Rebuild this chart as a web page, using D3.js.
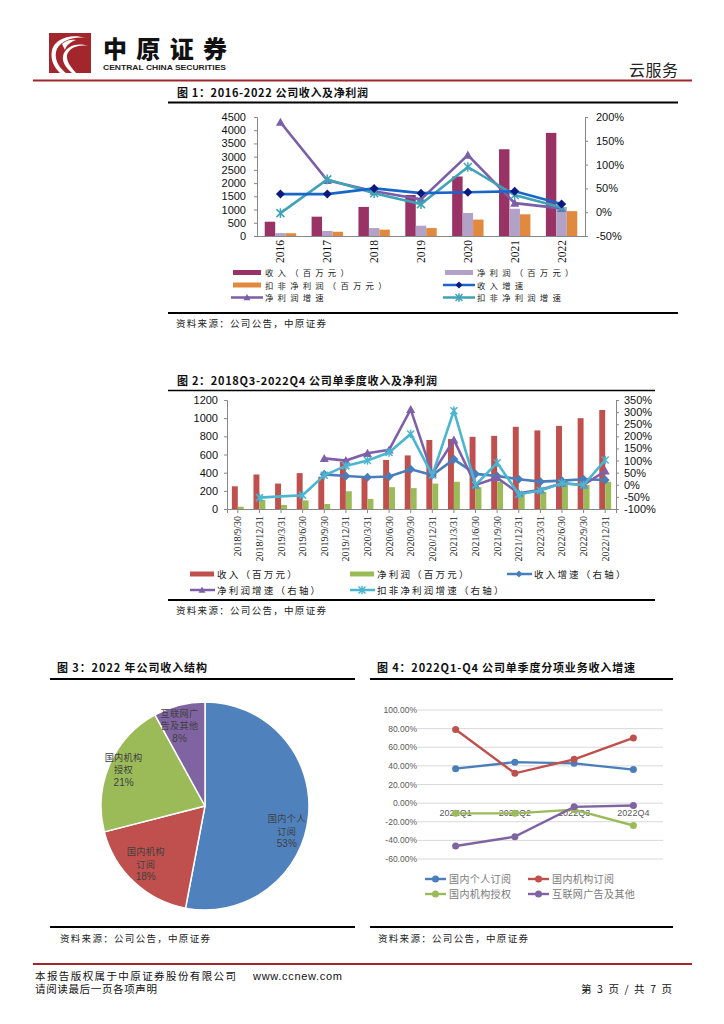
<!DOCTYPE html>
<html><head><meta charset="utf-8">
<script src="https://cdn.jsdelivr.net/npm/d3@7"></script>
<style>
body{margin:0;background:#fff}
svg{display:block}
text{font-family:"Noto Sans CJK SC","Noto Sans",sans-serif}
.num{font-family:"Liberation Sans",Arial,sans-serif}
.ser{font-family:"Liberation Serif","Times New Roman",serif}
</style>
</head><body><svg id="c" width="724" height="1024"></svg>
<script>
// ---------- Chart 1 data ----------
const years = ["2016","2017","2018","2019","2020","2021","2022"];
const revenue = [540,730,1100,1550,2250,3280,3900];
const netProfit = [110,190,300,390,870,1030,1100];
const deductedProfit = [105,160,240,300,620,820,940];
const revenueGrowth = [38,38,50,40,42,44,17];
const netProfitGrowth = [189,67,44,27,120,19,8];
const deductedGrowth = [-2,69,40,17,95,36,10];
const leftTicks1 = [0,500,1000,1500,2000,2500,3000,3500,4000,4500];
const rightTicks1 = [-50,0,50,100,150,200];

// ---------- Chart 2 data ----------
const quarters = ["2018/9/30","2018/12/31","2019/3/31","2019/6/30","2019/9/30","2019/12/31","2020/3/31","2020/6/30","2020/9/30","2020/12/31","2021/3/31","2021/6/30","2021/9/30","2021/12/31","2022/3/31","2022/6/30","2022/9/30","2022/12/31"];
const qRevenue = [250,380,280,395,355,520,360,540,590,760,770,795,805,905,865,915,1000,1090];
const qProfit = [25,100,45,95,55,195,110,240,230,280,300,240,300,176,190,319,265,300];
const qRevenueGrowth = [null,null,null,null,43,36,31,34,64,40,105,45,36,23,13,17,23,20];
const qNetProfitGrowth = [null,null,null,null,109,100,130,144,311,45,185,-1,29,-35,-21,6,-1,57];
const qDeductedGrowth = [null,-53,-48,-43,39,78,100,133,210,40,306,-1,91,-39,-24,6,-1,102];
const leftTicks2 = [0,200,400,600,800,1000,1200];
const rightTicks2 = [-100,-50,0,50,100,150,200,250,300,350];

// ---------- Chart 3 data ----------
const pieNames = [["国内个人","订阅"],["国内机构","订阅"],["国内机构","授权"],["互联网广","告及其他"]];
const pieValues = [53,18,21,8];

// ---------- Chart 4 data ----------
const q2022 = ["2022Q1","2022Q2","2022Q3","2022Q4"];
const segNames = ["国内个人订阅","国内机构订阅","国内机构授权","互联网广告及其他"];
const segPersonal = [37,44,42.7,36];
const segInstSub = [79,32,47,70];
const segInstLic = [-11,-11,-7,-24];
const segInternet = [-46,-36,-4,-2.5];
const ticks4 = [-60,-40,-20,0,20,40,60,80,100];

const svg = d3.select("#c");
svg.append("rect").attr("width",724).attr("height",1024).attr("fill","#fff");

// ---------- Header ----------
const logo = svg.append("g");
logo.append("rect").attr("x",49).attr("y",33).attr("width",42).attr("height",40).attr("fill","#a3262c");
logo.append("path").attr("d","M86,38 C72,36 58,42 56,52 C54,62 62,70 66,73 L60,73 C54,67 50,60 52,50 C55,39 70,33 86,38 Z").attr("fill","#fff");
logo.append("path").attr("d","M88,46 C76,44 66,50 67,58 C68,65 74,70 76,73 L72,73 C66,68 62,62 63,56 C65,47 76,42 88,46 Z").attr("fill","#fff");
logo.append("path").attr("d","M62,44 C66,40 72,39 76,40 C70,42 66,46 65,50 Z").attr("fill","#fff");
svg.append("text").attr("x",103).attr("y",58).attr("font-size",24).attr("font-weight",900)
  .attr("textLength",124).attr("lengthAdjust","spacing").attr("fill","#111").text("中原证券");
svg.append("text").attr("class","num").attr("x",103).attr("y",70).attr("font-size",7.5).attr("font-weight",700)
  .attr("textLength",123).attr("lengthAdjust","spacingAndGlyphs").attr("fill","#222").text("CENTRAL CHINA SECURITIES");
svg.append("text").attr("x",629).attr("y",76).attr("font-size",16).attr("textLength",49).attr("fill","#222").text("云服务");
svg.append("line").attr("x1",33).attr("x2",692).attr("y1",80.5).attr("y2",80.5).attr("stroke","#a3262c").attr("stroke-width",2);

// helpers
function title(x,y,txt,w){
  svg.append("text").attr("x",x).attr("y",y).attr("font-size",11).attr("font-weight",700).attr("fill","#111")
    .attr("textLength",w).attr("lengthAdjust","spacing").text(txt);
}
function hline(x1,x2,y,w){
  svg.append("line").attr("x1",x1).attr("x2",x2).attr("y1",y).attr("y2",y).attr("stroke","#000").attr("stroke-width",w||2);
}
function source(x,y){
  svg.append("text").attr("x",x).attr("y",y).attr("font-size",9.5).attr("fill","#222")
    .attr("textLength",150).attr("lengthAdjust","spacing").text("资料来源：公司公告，中原证券");
}
function marker(g,type,x,y,color,size){
  const s=size||4;
  if(type==="diamond"){
    g.append("path").attr("d",`M${x},${y-s}L${x+s},${y}L${x},${y+s}L${x-s},${y}Z`).attr("fill",color);
  } else if(type==="triangle"){
    g.append("path").attr("d",`M${x},${y-s}L${x+s},${y+s*0.8}L${x-s},${y+s*0.8}Z`).attr("fill",color);
  } else if(type==="star"){
    g.append("path").attr("d",`M${x-s},${y-s}L${x+s},${y+s}M${x-s},${y+s}L${x+s},${y-s}M${x},${y-s*1.2}L${x},${y+s*1.2}`)
      .attr("stroke",color).attr("stroke-width",1.5).attr("fill","none");
  } else if(type==="circle"){
    g.append("circle").attr("cx",x).attr("cy",y).attr("r",s).attr("fill",color);
  }
}

// ---------- Chart 1 ----------
title(177,97,"图 1：2016-2022 公司收入及净利润",191);
hline(168,678,102.5,2);
{
  const x0=257,x1=585,yTop=117,yBot=236;
  const x = d3.scaleBand().domain(years).range([x0,x1]).paddingInner(0.33).paddingOuter(0.165);
  const xs = d3.scaleBand().domain([0,1,2]).range([0,x.bandwidth()]);
  const yL = d3.scaleLinear().domain([0,4500]).range([yBot,yTop]);
  const yR = d3.scaleLinear().domain([-50,200]).range([yBot,yTop]);
  const g = svg.append("g");
  const series=[revenue,netProfit,deductedProfit];
  const colors=["#993366","#b3a2c7","#e0893f"];
  series.forEach((arr,si)=>{
    g.selectAll(null).data(arr).enter().append("rect")
      .attr("x",(d,i)=>x(years[i])+xs(si)).attr("width",xs.bandwidth())
      .attr("y",d=>yL(d)).attr("height",d=>yBot-yL(d)).attr("fill",colors[si]);
  });
  const axL = g.append("g").attr("transform",`translate(${x0},0)`).call(d3.axisLeft(yL).tickValues(leftTicks1).tickSize(3).tickFormat(d3.format("d")));
  const axR = g.append("g").attr("transform",`translate(${x1},0)`).call(d3.axisRight(yR).tickValues(rightTicks1).tickSize(3).tickFormat(d=>d+"%"));
  [axL,axR].forEach(a=>{a.select(".domain").attr("stroke","#888");a.selectAll(".tick line").attr("stroke","#888");
    a.selectAll("text").attr("class","num").attr("font-size",11).attr("fill","#111");});
  axL.selectAll("text").attr("x",-11);
  axR.selectAll("text").attr("x",11);
  g.append("line").attr("x1",x0).attr("x2",x1).attr("y1",yBot+0.5).attr("y2",yBot+0.5).attr("stroke","#888");
  g.selectAll(null).data(years).enter().append("text").attr("class","ser")
    .attr("transform",d=>`translate(${x(d)+x.bandwidth()/2+4},240) rotate(-90)`)
    .attr("text-anchor","end").attr("font-size",11.5).attr("fill","#111").text(d=>d);
  const cx = d=>x(d)+x.bandwidth()/2;
  const lines=[[netProfitGrowth,"#7b5ea7","triangle"],[deductedGrowth,"#3fa3b8","star"],[revenueGrowth,"#1a66c8","diamond"]];
  lines.forEach(([arr,col,mk])=>{
    const ln = d3.line().x((d,i)=>cx(years[i])).y(d=>yR(d));
    g.append("path").attr("d",ln(arr)).attr("fill","none").attr("stroke",col).attr("stroke-width",2.6);
    arr.forEach((d,i)=>marker(g,mk,cx(years[i]),yR(d),mk==="diamond"?"#0a1a80":col,mk==="star"?4:4.5));
  });
  const lg = svg.append("g");
  const items=[["收入（百万元）","#993366","bar",233,272.5],["净利润（百万元）","#b3a2c7","bar",445,272.5],
    ["扣非净利润（百万元）","#e0893f","bar",233,285],["收入增速","#1a66c8","diamond",445,285],
    ["净利润增速","#7b5ea7","triangle",233,297.5],["扣非净利润增速","#3fa3b8","star",445,297.5]];
  items.forEach(([t,c,k,lx,ly])=>{
    if(k==="bar") lg.append("rect").attr("x",lx).attr("y",ly-2.5).attr("width",28).attr("height",5).attr("fill",c);
    else { lg.append("line").attr("x1",lx-2).attr("x2",lx+30).attr("y1",ly).attr("y2",ly).attr("stroke",c).attr("stroke-width",2.5);
      marker(lg,k,lx+14,ly,k==="diamond"?"#0a1a80":c,3.5); }
    lg.append("text").attr("x",lx+32).attr("y",ly+3.5).attr("font-size",8.4).attr("letter-spacing",4.2).attr("fill","#222").text(t);
  });
}
hline(168,678,313,2);
source(176,327);

// ---------- Chart 2 ----------
title(177,385,"图 2：2018Q3-2022Q4 公司单季度收入及净利润",260);
hline(168,655,390.5,1.5);
{
  const x0=227,x1=616,yTop=400,yBot=509;
  const x = d3.scaleBand().domain(quarters).range([x0,x1]).paddingInner(0.45).paddingOuter(0.225);
  const xs = d3.scaleBand().domain([0,1]).range([0,x.bandwidth()]);
  const yL = d3.scaleLinear().domain([0,1200]).range([yBot,yTop]);
  const yR = d3.scaleLinear().domain([-100,350]).range([yBot,yTop]);
  const g = svg.append("g");
  [[qRevenue,"#c0504d"],[qProfit,"#9bbb59"]].forEach(([arr,col],si)=>{
    g.selectAll(null).data(arr).enter().append("rect")
      .attr("x",(d,i)=>x(quarters[i])+xs(si)).attr("width",xs.bandwidth())
      .attr("y",d=>yL(d)).attr("height",d=>yBot-yL(d)).attr("fill",col);
  });
  const axL = g.append("g").attr("transform",`translate(${x0},0)`).call(d3.axisLeft(yL).tickValues(leftTicks2).tickSize(3).tickFormat(d3.format("d")));
  const axR = g.append("g").attr("transform",`translate(${x1},0)`).call(d3.axisRight(yR).tickValues(rightTicks2).tickSize(3).tickFormat(d=>d+"%"));
  [axL,axR].forEach(a=>{a.select(".domain").attr("stroke","#888");a.selectAll(".tick line").attr("stroke","#888");
    a.selectAll("text").attr("class","num").attr("font-size",11).attr("fill","#111");});
  axL.selectAll("text").attr("x",-9);
  axR.selectAll("text").attr("x",8);
  const axB = g.append("g").attr("transform",`translate(0,${yBot})`).call(d3.axisBottom(x).tickSize(4).tickFormat(""));
  axB.select(".domain").attr("stroke","#888");axB.selectAll(".tick line").attr("stroke","#888");
  g.selectAll(null).data(quarters).enter().append("text").attr("class","ser")
    .attr("transform",d=>`translate(${x(d)+x.bandwidth()/2+3.5},516) rotate(-90)`)
    .attr("text-anchor","end").attr("font-size",10).attr("fill","#222").text(d=>d);
  const cx = d=>x(d)+x.bandwidth()/2;
  const lines=[[qRevenueGrowth,"#4a7ebb","diamond"],[qNetProfitGrowth,"#7f5fa8","triangle"],[qDeductedGrowth,"#4bb6d0","star"]];
  lines.forEach(([arr,col,mk])=>{
    const ln = d3.line().defined(d=>d!==null).x((d,i)=>cx(quarters[i])).y(d=>yR(d));
    g.append("path").attr("d",ln(arr)).attr("fill","none").attr("stroke",col).attr("stroke-width",2.6);
    arr.forEach((d,i)=>{ if(d!==null && !(mk==="star" && i===2)) marker(g,mk,cx(quarters[i]),yR(d),col,mk==="star"?3.5:4.5);});
  });
  const lg = svg.append("g");
  const items=[["收入（百万元）","#c0504d","bar",190,574],["净利润（百万元）","#9bbb59","bar",350,574],
    ["收入增速（右轴）","#4a7ebb","diamond",507,574],["净利润增速（右轴）","#7f5fa8","triangle",190,590],
    ["扣非净利润增速（右轴）","#4bb6d0","star",350,590]];
  items.forEach(([t,c,k,lx,ly])=>{
    if(k==="bar") lg.append("rect").attr("x",lx).attr("y",ly-2.5).attr("width",24).attr("height",5).attr("fill",c);
    else { lg.append("line").attr("x1",lx).attr("x2",lx+25).attr("y1",ly).attr("y2",ly).attr("stroke",c).attr("stroke-width",2.5);
      marker(lg,k,lx+12,ly,c,3.5); }
    lg.append("text").attr("x",lx+27).attr("y",ly+4).attr("font-size",9.5).attr("letter-spacing",2.2).attr("fill","#222").text(t);
  });
}
hline(168,655,600,2);
source(176,614);

// ---------- Chart 3 ----------
title(57,672,"图 3：2022 年公司收入结构",150);
hline(50,355,679,2);
{
  const cx=205,cy=806,r=104;
  const pie = d3.pie().sort(null).value(d=>d)(pieValues);
  const arc = d3.arc().innerRadius(0).outerRadius(r);
  const labArc = d3.arc().innerRadius(r*0.58).outerRadius(r);
  const labelShift = [[0,17],[-3,-2],[-6,-4],[-5,-1]];
  const colors=["#4f81bd","#c0504d","#9bbb59","#8064a2"];
  const g = svg.append("g").attr("transform",`translate(${cx},${cy})`);
  g.selectAll(null).data(pie).enter().append("path").attr("d",arc).attr("fill",(d,i)=>colors[i])
    .attr("stroke","#fff").attr("stroke-width",1.5);
  pie.forEach((p,i)=>{
    const [lx,ly]=labArc.centroid(p);
    const lines=[pieNames[i][0],pieNames[i][1],pieValues[i]+"%"];
    lines.forEach((s,j)=>g.append("text").attr("text-anchor","middle").attr("fill","#404040")
      .attr("x",lx+labelShift[i][0]).attr("y",ly+labelShift[i][1]+(j-1)*12.5+4)
      .attr("class",j===2?"num":null).attr("font-size",j===2?10:9.2).attr("letter-spacing",j===2?0:0.3).text(s));
  });
}
hline(50,355,927,2);
source(60,942);

// ---------- Chart 4 ----------
title(377,672,"图 4：2022Q1-Q4 公司单季度分项业务收入增速",258);
hline(370,673,679,2);
{
  const x = d3.scaleBand().domain(q2022).range([426,663]);
  const y = d3.scaleLinear().domain([-60,100]).range([859,710]);
  const g = svg.append("g");
  ticks4.forEach(t=>{
    g.append("line").attr("x1",417).attr("x2",663).attr("y1",y(t)).attr("y2",y(t)).attr("stroke","#d9d9d9").attr("stroke-width",1);
    g.append("text").attr("class","num").attr("x",417).attr("y",y(t)+3).attr("text-anchor","end").attr("font-size",8.5)
      .attr("fill","#595959").text(t.toFixed(2)+"%");
  });
  q2022.forEach(q=>g.append("text").attr("class","num").attr("x",x(q)+x.bandwidth()/2).attr("y",y(0)+13)
    .attr("text-anchor","middle").attr("font-size",9).attr("fill","#595959").text(q));
  const cols=["#4a7ebb","#c0504d","#9bbb59","#8064a2"];
  [segPersonal,segInstSub,segInstLic,segInternet].forEach((arr,si)=>{
    const ln=d3.line().x((d,i)=>x(q2022[i])+x.bandwidth()/2).y(d=>y(d));
    g.append("path").attr("d",ln(arr)).attr("fill","none").attr("stroke",cols[si]).attr("stroke-width",2.4);
    arr.forEach((d,i)=>marker(g,"circle",x(q2022[i])+x.bandwidth()/2,y(d),cols[si],3.5));
  });
  const pos=[[425,879],[528,879],[425,894],[528,894]];
  segNames.forEach((n,i)=>{
    const [lx,ly]=pos[i];
    g.append("line").attr("x1",lx).attr("x2",lx+21).attr("y1",ly).attr("y2",ly).attr("stroke",cols[i]).attr("stroke-width",2.4);
    marker(g,"circle",lx+10.5,ly,cols[i],3.5);
    g.append("text").attr("x",lx+24).attr("y",ly+4).attr("font-size",10).attr("letter-spacing",0.4).attr("fill","#7a7a7a").text(n);
  });
}
hline(370,673,927,2);
source(378,942);

// ---------- Footer ----------
svg.append("line").attr("x1",33).attr("x2",692).attr("y1",964).attr("y2",964).attr("stroke","#a3262c").attr("stroke-width",2);
svg.append("text").attr("x",35).attr("y",980).attr("font-size",10.5).attr("fill","#111")
  .attr("textLength",201).attr("lengthAdjust","spacing").text("本报告版权属于中原证券股份有限公司");
svg.append("text").attr("class","num").attr("x",253).attr("y",980).attr("font-size",11).attr("fill","#111")
  .attr("textLength",89).text("www.ccnew.com");
svg.append("text").attr("x",35).attr("y",993).attr("font-size",10.5).attr("fill","#111")
  .attr("textLength",122).attr("lengthAdjust","spacing").text("请阅读最后一页各项声明");
svg.append("text").attr("x",581).attr("y",993).attr("font-size",10.5).attr("fill","#111")
  .attr("textLength",91).attr("lengthAdjust","spacing").text("第 3 页 / 共 7 页");
</script></body></html>
